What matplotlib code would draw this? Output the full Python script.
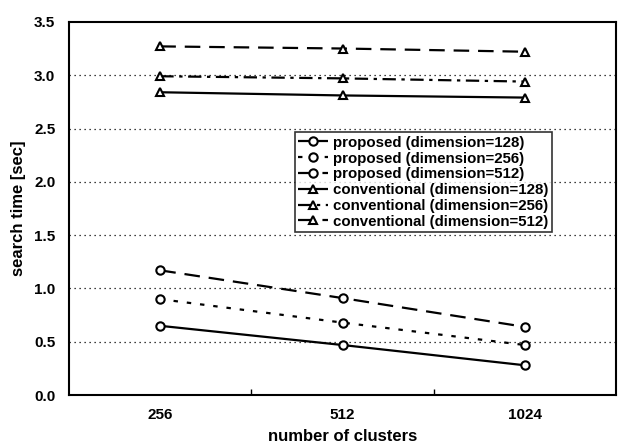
import matplotlib
matplotlib.use("Agg")
import matplotlib.pyplot as plt

categories = ["256", "512", "1024"]
prop_128 = [0.65, 0.47, 0.28]
prop_256 = [0.90, 0.68, 0.47]
prop_512 = [1.17, 0.91, 0.64]
conv_128 = [2.84, 2.81, 2.79]
conv_256 = [2.99, 2.97, 2.94]
conv_512 = [3.27, 3.25, 3.22]
yticks = [0.0, 0.5, 1.0, 1.5, 2.0, 2.5, 3.0, 3.5]

plt.rcParams['font.family'] = ['Liberation Sans', 'DejaVu Sans']
plt.rcParams['font.weight'] = 'bold'

fig = plt.figure(figsize=(6.23, 4.46), dpi=100)
ax = fig.add_axes([0.111, 0.114, 0.878, 0.837])
x = list(range(len(categories)))

series = [
    (prop_128, 'o', (0, ()), "proposed (dimension=128)"),
    (prop_256, 'o', (0, (2, 4)), "proposed (dimension=256)"),
    (prop_512, 'o', (0, (7, 4)), "proposed (dimension=512)"),
    (conv_128, '^', (0, ()), "conventional (dimension=128)"),
    (conv_256, '^', (0, (6, 2.5, 1.5, 2.5)), "conventional (dimension=256)"),
    (conv_512, '^', (0, (7, 4)), "conventional (dimension=512)"),
]
for vals, m, ls, lab in series:
    ax.plot(x, vals, color='black', linestyle=ls, linewidth=1.6, marker=m,
            markersize=6, markerfacecolor='white', markeredgecolor='black',
            markeredgewidth=1.5, label=lab)

ax.set_xlim(-0.5, 2.5)
ax.set_ylim(0, 3.5)
ax.set_yticks(yticks)
ax.set_yticklabels([f"{v:.1f}" for v in yticks])
ax.set_xticks(x)
ax.set_xticklabels(categories)
ax.set_xticks([0.5, 1.5], minor=True)
ax.tick_params(axis='x', which='major', length=0, pad=9, labelsize=11)
ax.tick_params(axis='x', which='minor', length=4, direction='in', width=1)
ax.tick_params(axis='y', length=0, pad=10, labelsize=11)
for t in ax.get_xticklabels() + ax.get_yticklabels():
    t.set_fontweight('bold')
for v in yticks[1:-1]:
    ax.axhline(v, color='black', linestyle=(0, (1, 3)), linewidth=0.9, zorder=0)
for s in ax.spines.values():
    s.set_linewidth(1.5)

ax.set_xlabel("number of clusters", fontsize=12, fontweight='bold', labelpad=5)
ax.set_ylabel("search time [sec]", fontsize=12, fontweight='bold', labelpad=6)

leg = ax.legend(loc='upper left', bbox_to_anchor=(0.412, 0.705), fontsize=10.8,
                frameon=True, fancybox=False, edgecolor='black',
                handlelength=2.0, handletextpad=0.3, borderpad=0.25,
                labelspacing=0.12, borderaxespad=0)
leg.get_frame().set_linewidth(1.2)
for t in leg.get_texts():
    t.set_fontweight('bold')

fig.savefig("out.png", dpi=100)
